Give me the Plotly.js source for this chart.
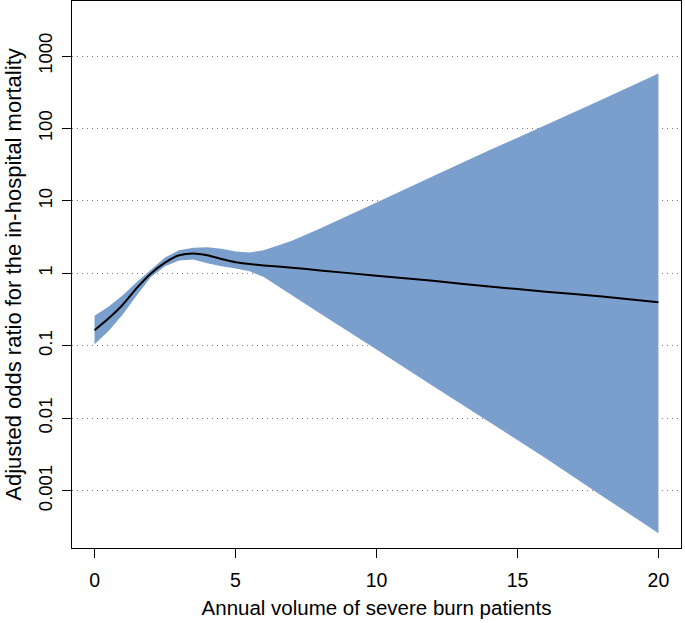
<!DOCTYPE html>
<html>
<head>
<meta charset="utf-8">
<script src="https://cdn.plot.ly/plotly-3.0.1.min.js"></script>
<style>
  html, body { margin: 0; padding: 0; background: #fff; }
  #chart { width: 685px; height: 623px; }
</style>
</head>
<body>
<div id="chart"></div>
<script>
// annual volume (x) and adjusted odds ratio
var volume = [0, 0.5, 1, 1.5, 2, 2.5, 3, 3.5, 4, 4.5, 5, 5.5, 6, 7, 8, 10, 12, 14, 16, 18, 20];
var oddsRatio = [0.164, 0.24, 0.37, 0.63, 1.0, 1.41, 1.78, 1.89, 1.78, 1.58, 1.43, 1.35, 1.29, 1.20, 1.10, 0.93, 0.79, 0.66, 0.56, 0.48, 0.40];
var upperCI = [0.26, 0.35, 0.50, 0.76, 1.12, 1.66, 2.09, 2.26, 2.29, 2.19, 2.0, 1.95, 2.09, 2.82, 4.17, 9.5, 21.9, 50, 112, 251, 575];
var lowerCI = [0.105, 0.16, 0.27, 0.50, 0.89, 1.26, 1.51, 1.55, 1.38, 1.26, 1.17, 1.07, 0.89, 0.50, 0.28, 0.089, 0.028, 0.0089, 0.0028, 0.00085, 0.00026];

var yTicks = [0.001, 0.01, 0.1, 1, 10, 100, 1000];
var yTickText = ["0.001", "0.01", "0.1", "1", "10", "100", "1000"];
var xTicks = [0, 5, 10, 15, 20];

// confidence band as a closed polygon
var bandX = volume.concat(volume.slice().reverse());
var bandY = upperCI.concat(lowerCI.slice().reverse());

var band = {
  x: bandX,
  y: bandY,
  type: 'scatter',
  mode: 'none',
  fill: 'toself',
  fillcolor: '#7b9fcc',
  hoverinfo: 'skip',
  showlegend: false
};

var curve = {
  x: volume,
  y: oddsRatio,
  type: 'scatter',
  mode: 'lines',
  line: {color: '#000', width: 2, shape: 'spline', smoothing: 0.6},
  showlegend: false
};

var fnt = {family: 'Liberation Sans, Arial, Helvetica, sans-serif', color: '#000'};

var layout = {
  width: 685,
  height: 623,
  margin: {l: 72, r: 4, t: 1, b: 75},
  paper_bgcolor: '#fff',
  plot_bgcolor: '#fff',
  font: fnt,
  xaxis: {
    range: [-0.8, 20.8],
    tickvals: xTicks,
    ticks: 'outside',
    ticklen: 9,
    tickcolor: '#000',
    tickfont: {size: 19.5},
    ticklabelstandoff: 6,
    showgrid: false,
    zeroline: false,
    showline: true,
    linecolor: '#000',
    linewidth: 1,
    mirror: true,
    title: {text: 'Annual volume of severe burn patients', font: {size: 20.5}, standoff: 10}
  },
  yaxis: {
    type: 'log',
    range: [-3.79, 3.76],
    tickvals: yTicks,
    ticktext: yTickText,
    tickangle: -90,
    ticks: 'outside',
    ticklen: 9,
    tickcolor: '#000',
    tickfont: {size: 18.5},
    ticklabelstandoff: 3,
    showgrid: true,
    gridcolor: '#777',
    griddash: '1px,4px',
    gridwidth: 1,
    zeroline: false,
    showline: true,
    linecolor: '#000',
    linewidth: 1,
    mirror: true,
    title: {text: 'Adjusted odds ratio for the in-hospital mortality', font: {size: 22}, standoff: 6}
  },
  shapes: [{
    type: 'line',
    xref: 'paper', x0: 0, x1: 1,
    yref: 'y', y0: 0, y1: 0,
    line: {color: '#000', width: 1.3}
  }]
};

Plotly.newPlot('chart', [band, curve], layout, {displayModeBar: false, staticPlot: true});
</script>
</body>
</html>
